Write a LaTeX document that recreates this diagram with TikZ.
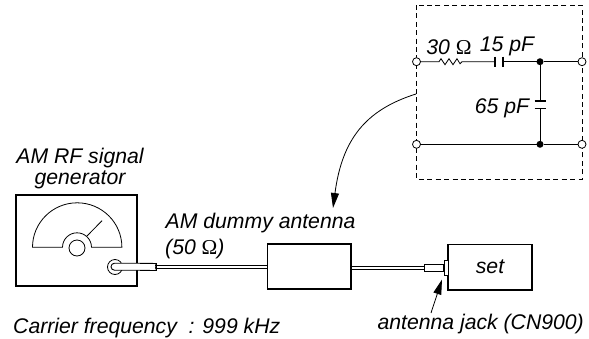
\documentclass[tikz,border=0pt]{standalone}
\usepackage{fontspec}
\setmainfont{Liberation Sans}
\newfontfamily\amsymb{Liberation Serif}
\usetikzlibrary{arrows.meta,calc}
\newcommand{\amohm}{{\amsymb\upshape\char"03A9}}
\tikzset{
  am/.style={x=1pt, y=-1pt, font=\fontsize{21.2}{23}\selectfont\itshape, text=black},
  ambox/.style={draw=black, line width=1.4pt, inner sep=0pt, outer sep=0pt},
  amwire/.style={draw=black, line width=0.8pt},
  amplug/.style={draw=black, fill=white, line width=0.9pt, inner sep=0pt, outer sep=0pt},
  amterm/.style={circle, draw=black, fill=white, line width=0.8pt, minimum size=8pt, inner sep=0pt, outer sep=0pt},
  amdot/.style={circle, fill=black, minimum size=7pt, inner sep=0pt, outer sep=0pt},
  amplate/.style={draw=black, line width=1.3pt},
  amarr/.style={-{Triangle[length=15pt,width=8pt]}, line width=0.8pt, draw=black},
  amlbl/.style={inner sep=0pt, align=center},
}
\begin{document}
\begin{tikzpicture}[am]
  \useasboundingbox (0,0) rectangle (589,338);
  \draw[draw=black, line width=0.8pt, dash pattern=on 5pt off 3.4pt] (416.5,5) rectangle (582,179);
  \node[amterm] (tl) at (416.5,61.7) {};
  \node[amterm] (tr) at (582,61.7) {};
  \node[amterm] (bl) at (416.5,144.3) {};
  \node[amterm] (br) at (582,144.3) {};
  \node[amdot] (jt) at (540,61.7) {};
  \node[amdot] (jb) at (540,144.3) {};
  \coordinate (ra) at (439,61.7);
  \coordinate (rb) at (462,61.7);
  \coordinate (ca) at (495,61.7);
  \coordinate (cb) at (503,61.7);
  \coordinate (da) at (540,101);
  \coordinate (db) at (540,108.7);
  \draw[amwire] (tl) -- (ra) -- ++(2,-3) -- ++(4,6) -- ++(4,-6) -- ++(4,6) -- ++(4,-6) -- ++(3,5) -- (rb) -- (ca);
  \draw[amwire] (cb) -- (jt) -- (tr);
  \draw[amwire] (bl) -- (jb) -- (br);
  \draw[amwire] (jt) -- (da);
  \draw[amwire] (db) -- (jb);
  \draw[amplate] ($(ca)+(0,-5)$) -- ($(ca)+(0,5)$);
  \draw[amplate] ($(cb)+(0,-5)$) -- ($(cb)+(0,5)$);
  \draw[amplate] ($(da)+(-5.5,0)$) -- ($(da)+(5.5,0)$);
  \draw[amplate] ($(db)+(-5.5,0)$) -- ($(db)+(5.5,0)$);
  \node[amlbl] at (449,47) {30 \amohm};
  \node[amlbl] at (507,46.5) {15 pF};
  \node[amlbl] at (502,108) {65 pF};

  \node[amlbl] at (80,158) {AM RF signal};
  \node[amlbl] at (80,180) {generator};
  \node[ambox, minimum width=121pt, minimum height=91pt] (gen) at (76.5,240.5) {};
  \draw[amwire] (32.5,247.3) arc[start angle=180, end angle=0, x radius=44.7, y radius=-44.5] -- (91.5,247.3)
    arc[start angle=0, end angle=180, x radius=14.5, y radius=-14.5] -- cycle;
  \node[circle, draw=black, line width=0.8pt, minimum size=16pt, inner sep=0pt] (knob) at (77,248) {};
  \coordinate (nda) at (87,236);
  \coordinate (ndb) at (102,220.7);
  \draw[amwire] (nda) -- (ndb);
  \node[circle, draw=black, line width=0.8pt, minimum size=15pt, inner sep=0pt] (jk) at (115,267) {};
  \node[amplug, minimum width=45pt, minimum height=7pt, rounded corners=3.5pt] (pa) at (133.5,266.7) {};
  \fill[white] (150,263.6) rectangle (155.4,269.8);
  \draw[amwire, line width=0.9pt] (140,263.2) -- (156,263.2) -- (156,270.2) -- (140,270.2);

  \node[ambox, minimum width=83.5pt, minimum height=45pt] (dummy) at (309.3,266.5) {};
  \node[ambox, minimum width=84pt, minimum height=45.5pt] (setb) at (490,267.2) {set};
  \node[amplug, minimum width=19.5pt, minimum height=7.6pt] (pb) at (434,267.9) {};
  \node[amplug, minimum width=4pt, minimum height=15.6pt] (fl) at (446,267.9) {};
  \draw[amwire] (156,265.3) -- (dummy.west |- 0,265.3);
  \draw[amwire] (156,268.5) -- (dummy.west |- 0,268.5);
  \draw[amwire] (dummy.east |- 0,266.3) -- (pb.west |- 0,266.3);
  \draw[amwire] (dummy.east |- 0,269.6) -- (pb.west |- 0,269.6);

  \coordinate (ca0) at (416,94);
  \coordinate (ca1) at (333,208);
  \draw[amarr] (ca0) .. controls (365,110) and (342,140) .. (ca1);
  \coordinate (ja0) at (431,313);
  \coordinate (ja1) at (442,279.5);
  \draw[amarr] (ja0) -- (ja1);

  \node[amlbl, anchor=west] at (165.5,223) {AM dummy antenna};
  \node[amlbl, anchor=west] at (165,249) {(50 \amohm)};
  \node[amlbl, anchor=west] at (13,328) {Carrier frequency\ \ : 999 kHz};
  \node[amlbl, anchor=east] at (584,324) {antenna jack (CN900)};
\end{tikzpicture}
\end{document}
